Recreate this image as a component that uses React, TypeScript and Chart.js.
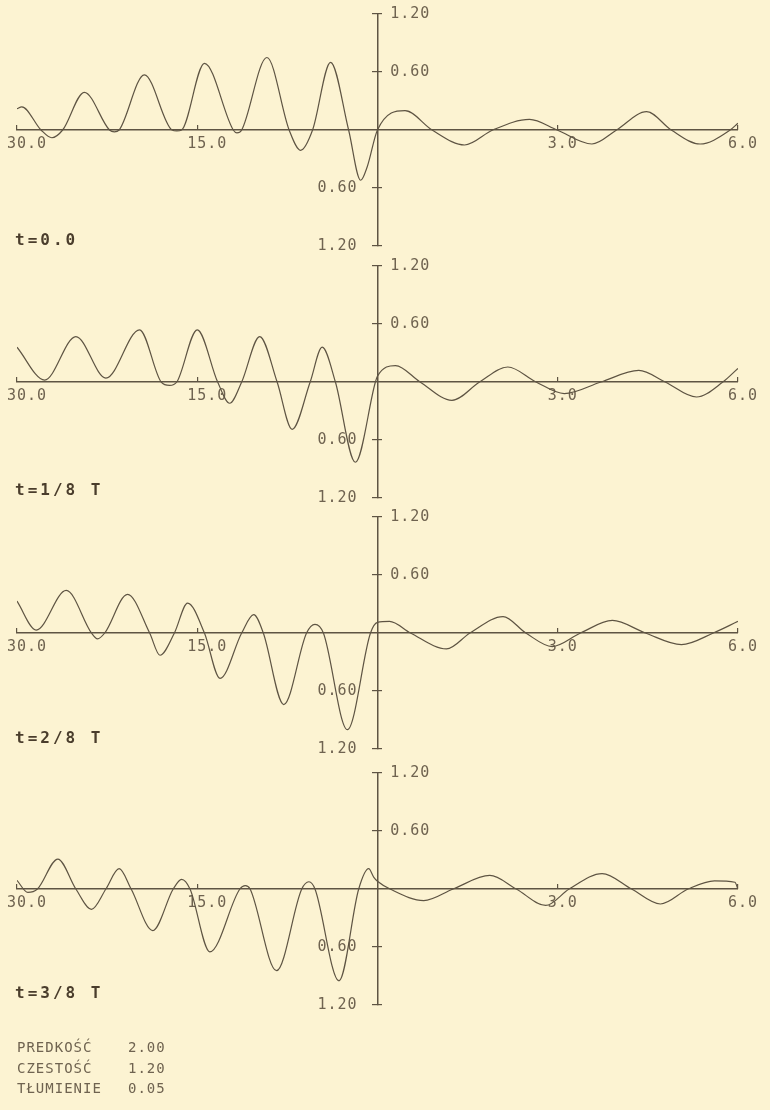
import React, { useEffect, useRef } from "react";
import { Chart, registerables } from "chart.js";

Chart.register(...registerables);

// ---------- data ----------
// Left half of each panel: distance 30 -> 0 ; right half: 0 -> 6
const P1_LEFT_X = [30.0, 29.6, 28.0, 27.1, 26.2, 24.4, 22.3, 21.9, 21.5, 19.4, 17.1, 16.7, 16.3, 14.4, 12.0, 11.7, 11.3, 9.2, 7.35, 6.4, 5.4, 3.9, 2.4, 1.4, 0.85, 0.0];
const P1_LEFT_Y = [0.22, 0.24, 0, -0.08, 0, 0.39, 0, -0.02, 0, 0.57, 0, -0.01, 0, 0.69, 0, -0.03, 0, 0.75, 0, -0.21, 0, 0.7, 0, -0.52, -0.38, 0];
const P1_RIGHT_X = [0, 0.46, 0.91, 1.45, 1.92, 2.53, 2.99, 3.57, 3.98, 4.48, 4.89, 5.37, 5.87, 6.0];
const P1_RIGHT_Y = [0, 0.2, 0, -0.155, 0, 0.11, 0, -0.145, 0, 0.19, 0, -0.145, 0, 0.07];

const P2_LEFT_X = [30.0, 27.7, 25.1, 22.6, 19.8, 18.0, 17.3, 16.7, 15.0, 13.3, 12.3, 11.3, 9.8, 8.35, 7.1, 5.6, 4.6, 3.5, 1.84, 0.17];
const P2_LEFT_Y = [0.36, 0.02, 0.47, 0.04, 0.54, 0, -0.035, 0, 0.54, 0, -0.22, 0, 0.47, 0, -0.49, 0, 0.36, 0, -0.83, 0];
const P2_RIGHT_X = [0, 0.3, 0.71, 1.24, 1.7, 2.17, 2.64, 3.11, 3.72, 4.35, 4.79, 5.31, 5.75, 6.0];
const P2_RIGHT_Y = [0.06, 0.17, 0, -0.19, 0, 0.155, 0, -0.12, 0, 0.12, 0, -0.155, 0, 0.14];

const P3_LEFT_X = [30.0, 28.4, 25.9, 23.8, 23.3, 22.7, 20.8, 18.96, 18.1, 16.9, 15.8, 14.4, 13.1, 11.3, 10.3, 9.5, 7.8, 5.9, 5.2, 4.5, 2.5, 0.58];
const P3_LEFT_Y = [0.33, 0.03, 0.44, 0, -0.06, 0, 0.4, 0, -0.23, 0, 0.31, 0, -0.47, 0, 0.19, 0, -0.74, 0, 0.09, 0, -1.0, 0];
const P3_RIGHT_X = [0, 0.2, 0.55, 1.15, 1.54, 2.09, 2.47, 2.91, 3.38, 3.91, 4.46, 5.06, 5.59, 6.0];
const P3_RIGHT_Y = [0.11, 0.12, 0, -0.165, 0, 0.17, 0, -0.14, 0, 0.13, 0, -0.12, 0, 0.12];

const P4_LEFT_X = [30.0, 29.1, 28.3, 26.6, 25.1, 23.8, 22.6, 21.5, 20.5, 18.7, 17.0, 16.3, 15.6, 13.95, 11.45, 11.0, 10.6, 8.4, 6.3, 5.7, 5.2, 3.2, 1.56, 0.73, 0.3];
const P4_LEFT_Y = [0.09, -0.035, 0, 0.31, 0, -0.21, 0, 0.21, 0, -0.43, 0, 0.1, 0, -0.65, 0, 0.035, 0, -0.845, 0, 0.075, 0, -0.95, 0, 0.21, 0.12];
const P4_RIGHT_X = [0, 0.21, 0.77, 1.26, 1.87, 2.31, 2.8, 3.19, 3.74, 4.23, 4.71, 5.17, 5.61, 5.95, 6.0];
const P4_RIGHT_Y = [0.08, 0, -0.12, 0, 0.14, 0, -0.17, 0, 0.16, 0, -0.155, 0, 0.085, 0.07, 0];

const PANEL_LABELS = ["t=0.0", "t=1/8 T", "t=2/8 T", "t=3/8 T"];

// axis ticks
const LEFT_TICKS = [30, 15];
const RIGHT_TICKS = [3, 6];
const Y_TICKS = [-1.2, -0.6, 0.6, 1.2];

const PARAM_NAMES = ["PREDKOŚĆ", "CZESTOŚĆ", "TŁUMIENIE"];
const PARAM_VALUES = ["2.00", "1.20", "0.05"];

// ---------- style / layout ----------
const BG = "#fcf3d2";
const LINE = "#5e5443";
const TEXT = "#6f6350";
const LEFT_SCALE = 5; // 30 units on the left occupy the same width as 6 units on the right
const FONT = "'DejaVu Sans Mono', monospace";
const BASELINES = [130, 382, 633, 889];
const LABEL_OFFSETS = [110, 108, 105, 104];
const CANVAS_W = 770;
const CANVAS_H = 252;

const PANELS = [
  { lx: P1_LEFT_X, ly: P1_LEFT_Y, rx: P1_RIGHT_X, ry: P1_RIGHT_Y },
  { lx: P2_LEFT_X, ly: P2_LEFT_Y, rx: P2_RIGHT_X, ry: P2_RIGHT_Y },
  { lx: P3_LEFT_X, ly: P3_LEFT_Y, rx: P3_RIGHT_X, ry: P3_RIGHT_Y },
  { lx: P4_LEFT_X, ly: P4_LEFT_Y, rx: P4_RIGHT_X, ry: P4_RIGHT_Y },
];

const spacingPlugin = {
  id: "spacing",
  beforeDraw(chart: any) {
    try {
      (chart.ctx as any).letterSpacing = "1px";
    } catch (e) {}
  },
};

function Panel({ lx, ly, rx, ry, top }: any) {
  const ref = useRef<HTMLCanvasElement>(null);
  useEffect(() => {
    const pts: { x: number; y: number }[] = [];
    lx.forEach((x: number, i: number) => pts.push({ x: -x / LEFT_SCALE, y: ly[i] }));
    rx.forEach((x: number, i: number) => {
      if (!pts.some((q) => q.x === x)) pts.push({ x, y: ry[i] });
    });
    pts.sort((a, b) => a.x - b.x);
    const xTickVals = [...LEFT_TICKS.map((v) => -v / LEFT_SCALE), ...RIGHT_TICKS];
    const setTicks = (vals: number[]) => (scale: any) => {
      scale.ticks = vals.map((v) => ({ value: v }));
    };
    const font = { family: FONT, size: 15 };
    const yCommon = { type: "linear", axis: "y", min: -1.2, max: 1.2 };
    const xCommon = { type: "linear", axis: "x", min: -6, max: 6 };
    const chart = new Chart(ref.current as HTMLCanvasElement, {
      type: "line",
      data: {
        datasets: [
          {
            data: pts,
            borderColor: LINE,
            borderWidth: 1.2,
            pointRadius: 0,
            cubicInterpolationMode: "monotone",
            fill: false,
            xAxisID: "x",
            yAxisID: "y",
          },
        ],
      },
      options: {
        animation: false,
        responsive: false,
        maintainAspectRatio: false,
        events: [],
        layout: { padding: { left: 17, right: 30, top: 10, bottom: 10 } },
        plugins: { legend: { display: false }, tooltip: { enabled: false }, title: { display: false } },
        scales: {
          x: {
            ...xCommon,
            position: { y: 0 },
            afterBuildTicks: setTicks(xTickVals),
            grid: { display: false, drawTicks: false },
            border: { display: true, color: LINE, width: 1.5 },
            ticks: {
              color: TEXT,
              font,
              padding: 5,
              align: "start",
              labelOffset: -10,
              maxRotation: 0,
              autoSkip: false,
              callback: (v: any) => (v < 0 ? (-v * LEFT_SCALE).toFixed(1) : Number(v).toFixed(1)),
            },
          },
          xTicks: {
            ...xCommon,
            position: { y: 0.052 },
            afterBuildTicks: setTicks(xTickVals),
            grid: { display: true, drawOnChartArea: false, drawTicks: true, tickLength: 5, color: LINE, lineWidth: 1.2 },
            border: { display: false },
            ticks: { display: false },
          },
          y: {
            ...yCommon,
            position: { x: 0 },
            afterBuildTicks: setTicks(Y_TICKS),
            grid: { display: true, drawOnChartArea: false, drawTicks: true, tickLength: 5, color: LINE, lineWidth: 1.2 },
            border: { display: true, color: LINE, width: 1.5 },
            ticks: { display: false },
          },
          yTicksR: {
            ...yCommon,
            position: { x: 0.083 },
            afterBuildTicks: setTicks(Y_TICKS),
            grid: { display: true, drawOnChartArea: false, drawTicks: true, tickLength: 5, color: LINE, lineWidth: 1.2 },
            border: { display: false },
            ticks: { display: false },
          },
          yLabNeg: {
            ...yCommon,
            position: { x: -0.33 },
            afterBuildTicks: setTicks(Y_TICKS.filter((v) => v < 0)),
            grid: { display: false, drawTicks: false },
            border: { display: false },
            ticks: { color: TEXT, font, padding: 0, autoSkip: false, callback: (v: any) => Math.abs(v).toFixed(2) },
          },
          yLabPos: {
            ...yCommon,
            position: { x: 0.88 },
            afterBuildTicks: setTicks(Y_TICKS.filter((v) => v > 0)),
            grid: { display: false, drawTicks: false },
            border: { display: false },
            ticks: { color: TEXT, font, padding: 0, autoSkip: false, callback: (v: any) => Math.abs(v).toFixed(2) },
          },
        },
      } as any,
      plugins: [spacingPlugin],
    } as any);
    return () => chart.destroy();
  }, []);
  return (
    <canvas
      ref={ref}
      width={CANVAS_W}
      height={CANVAS_H}
      style={{ position: "absolute", left: 0, top, width: CANVAS_W, height: CANVAS_H }}
    />
  );
}

export default function App() {
  return (
    <div
      style={{
        position: "absolute",
        left: 0,
        top: 0,
        width: 770,
        height: 1110,
        background: BG,
        overflow: "hidden",
      }}
    >
      {PANELS.map((p, i) => (
        <Panel key={i} {...p} top={BASELINES[i] - CANVAS_H / 2} />
      ))}
      {PANEL_LABELS.map((t, i) => (
        <div
          key={"l" + i}
          style={{
            position: "absolute",
            left: 15,
            top: BASELINES[i] + LABEL_OFFSETS[i] - 8,
            fontFamily: FONT,
            fontWeight: "bold",
            fontSize: 16,
            lineHeight: "16px",
            letterSpacing: 3,
            color: "#4a3d2c",
            whiteSpace: "pre",
          }}
        >
          {t}
        </div>
      ))}
      <div
        style={{
          position: "absolute",
          left: 17,
          top: 1037,
          fontFamily: FONT,
          fontSize: 14,
          lineHeight: "20.5px",
          letterSpacing: 1,
          color: TEXT,
        }}
      >
        {PARAM_NAMES.map((n, i) => (
          <div key={n} style={{ whiteSpace: "pre" }}>
            <span style={{ display: "inline-block", width: 111 }}>{n}</span>
            <span>{PARAM_VALUES[i]}</span>
          </div>
        ))}
      </div>
    </div>
  );
}
